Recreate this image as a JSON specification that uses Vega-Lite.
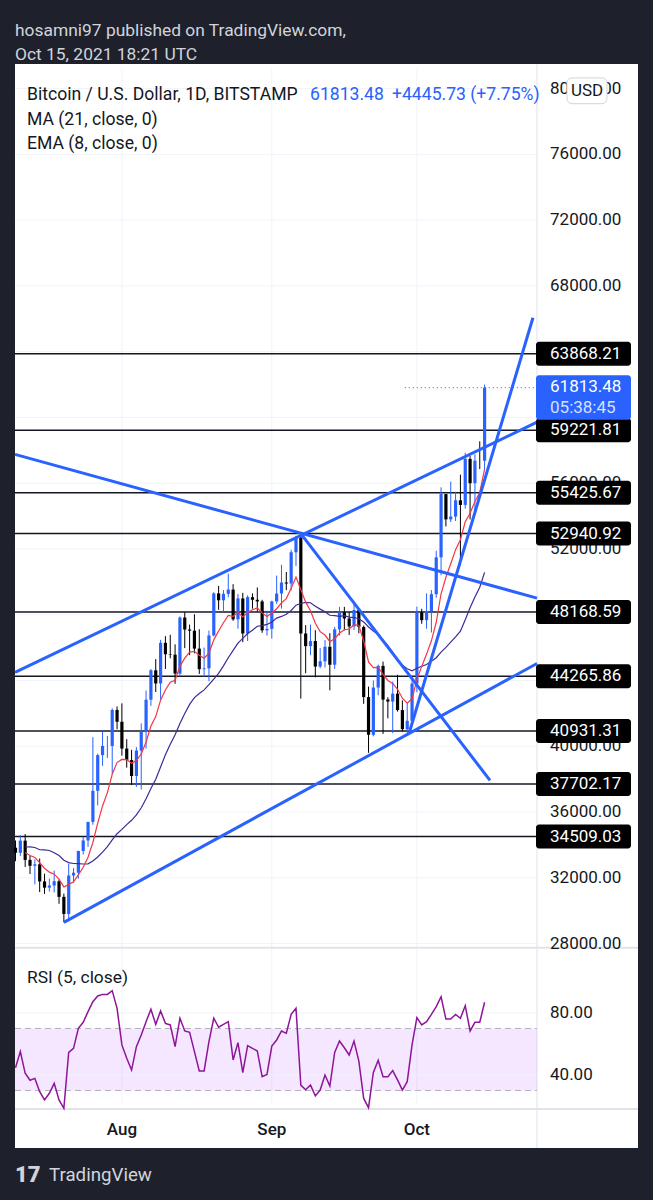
{
"$schema": "https://vega.github.io/schema/vega-lite/v6.json",
"width": 623,
"height": 1084,
"autosize": {"type": "none"},
"padding": {"left": 15, "top": 64, "right": 15, "bottom": 52},
"background": "#1e212b",
"config": {"view": {"fill": "#ffffff", "stroke": null}, "text": {"font": "Roboto"}},
"datasets": {
"candles": [
{"date":"2021-07-10","open":33830,"high":34270,"low":33010,"close":33520,"rsi":44.7},
{"date":"2021-07-11","open":33520,"high":34590,"low":33330,"close":34260,"rsi":55.1},
{"date":"2021-07-12","open":34260,"high":34660,"low":32660,"close":33090,"ma21":33872,"ema8":33540,"rsi":41.1},
{"date":"2021-07-13","open":33090,"high":33340,"low":32230,"close":32730,"ma21":33883,"ema8":33360,"rsi":36.6},
{"date":"2021-07-14","open":32730,"high":33120,"low":31600,"close":32820,"ma21":33841,"ema8":33240,"rsi":37.8},
{"date":"2021-07-15","open":32820,"high":33170,"low":31130,"close":31780,"ma21":33704,"ema8":32916,"rsi":29.2},
{"date":"2021-07-16","open":31780,"high":32250,"low":31020,"close":31400,"ma21":33695,"ema8":32579,"rsi":23.9},
{"date":"2021-07-17","open":31400,"high":31950,"low":31170,"close":31530,"ma21":33661,"ema8":32346,"rsi":28.2},
{"date":"2021-07-18","open":31530,"high":32440,"low":31110,"close":31790,"ma21":33525,"ema8":32222,"rsi":34.6},
{"date":"2021-07-19","open":31790,"high":31890,"low":30420,"close":30840,"ma21":33353,"ema8":31915,"rsi":23.9},
{"date":"2021-07-20","open":30840,"high":31040,"low":29290,"close":29800,"ma21":33064,"ema8":31445,"rsi":18.5},
{"date":"2021-07-21","open":29800,"high":32860,"low":29490,"close":32140,"ma21":32926,"ema8":31599,"rsi":54.6},
{"date":"2021-07-22","open":32140,"high":32590,"low":31710,"close":32310,"ma21":32868,"ema8":31757,"rsi":57.2},
{"date":"2021-07-23","open":32310,"high":33650,"low":31950,"close":33630,"ma21":32860,"ema8":32173,"rsi":70.1},
{"date":"2021-07-24","open":33630,"high":34490,"low":33420,"close":34270,"ma21":32840,"ema8":32639,"rsi":74.0},
{"date":"2021-07-25","open":34270,"high":35400,"low":33880,"close":35400,"ma21":32846,"ema8":33252,"rsi":80.9},
{"date":"2021-07-26","open":35400,"high":40550,"low":35230,"close":37290,"ma21":33017,"ema8":34149,"rsi":87.3},
{"date":"2021-07-27","open":37290,"high":39550,"low":36400,"close":39460,"ma21":33267,"ema8":35329,"rsi":91.0},
{"date":"2021-07-28","open":39460,"high":40900,"low":38810,"close":40020,"ma21":33560,"ema8":36371,"rsi":92.0},
{"date":"2021-07-29","open":40020,"high":40630,"low":39290,"close":40020,"ma21":33900,"ema8":37182,"rsi":92.0},
{"date":"2021-07-30","open":40020,"high":42310,"low":38320,"close":42210,"ma21":34300,"ema8":38299,"rsi":94.4},
{"date":"2021-07-31","open":42210,"high":42420,"low":41030,"close":41490,"ma21":34680,"ema8":39008,"rsi":83.0},
{"date":"2021-08-01","open":41490,"high":42610,"low":39430,"close":39860,"ma21":34947,"ema8":39197,"rsi":59.4},
{"date":"2021-08-02","open":39860,"high":40430,"low":38700,"close":39160,"ma21":35236,"ema8":39189,"rsi":50.8},
{"date":"2021-08-03","open":39160,"high":39780,"low":37640,"close":38190,"ma21":35496,"ema8":38967,"rsi":43.2},
{"date":"2021-08-04","open":38190,"high":39950,"low":37530,"close":39740,"ma21":35825,"ema8":39139,"rsi":58.3},
{"date":"2021-08-05","open":39740,"high":41390,"low":37370,"close":40880,"ma21":36259,"ema8":39526,"rsi":65.8},
{"date":"2021-08-06","open":40880,"high":43390,"low":39860,"close":42830,"ma21":36803,"ema8":40260,"rsi":74.4},
{"date":"2021-08-07","open":42830,"high":44700,"low":42460,"close":44620,"ma21":37426,"ema8":41229,"rsi":82.4},
{"date":"2021-08-08","open":44620,"high":45300,"low":43300,"close":43820,"ma21":37999,"ema8":41805,"rsi":72.7},
{"date":"2021-08-09","open":43820,"high":46470,"low":42850,"close":46290,"ma21":38735,"ema8":42802,"rsi":81.3},
{"date":"2021-08-10","open":46290,"high":46700,"low":44700,"close":45600,"ma21":39487,"ema8":43424,"rsi":73.3},
{"date":"2021-08-11","open":45600,"high":46780,"low":45350,"close":45570,"ma21":40127,"ema8":43901,"rsi":72.3},
{"date":"2021-08-12","open":45570,"high":46200,"low":43800,"close":44420,"ma21":40703,"ema8":44016,"rsi":58.3},
{"date":"2021-08-13","open":44420,"high":47900,"low":44240,"close":47830,"ma21":41380,"ema8":44863,"rsi":76.6},
{"date":"2021-08-14","open":47830,"high":48150,"low":45970,"close":47100,"ma21":41990,"ema8":45360,"rsi":68.4},
{"date":"2021-08-15","open":47100,"high":47400,"low":45540,"close":47030,"ma21":42544,"ema8":45731,"rsi":67.5},
{"date":"2021-08-16","open":47030,"high":48030,"low":45650,"close":45940,"ma21":42956,"ema8":45777,"rsi":55.1},
{"date":"2021-08-17","open":45940,"high":47120,"low":44400,"close":44690,"ma21":43205,"ema8":45535,"rsi":42.6},
{"date":"2021-08-18","open":44690,"high":46000,"low":44230,"close":44740,"ma21":43430,"ema8":45358,"rsi":42.6},
{"date":"2021-08-19","open":44740,"high":47040,"low":43960,"close":46740,"ma21":43750,"ema8":45665,"rsi":61.5},
{"date":"2021-08-20","open":46740,"high":49370,"low":46680,"close":49300,"ma21":44088,"ema8":46473,"rsi":76.6},
{"date":"2021-08-21","open":49300,"high":49750,"low":48300,"close":48880,"ma21":44440,"ema8":47008,"rsi":70.8},
{"date":"2021-08-22","open":48880,"high":49500,"low":48200,"close":49270,"ma21":44888,"ema8":47511,"rsi":72.7},
{"date":"2021-08-23","open":49270,"high":50500,"low":49060,"close":49530,"ma21":45381,"ema8":47960,"rsi":74.4},
{"date":"2021-08-24","open":49530,"high":49860,"low":47630,"close":47720,"ma21":45835,"ema8":47907,"rsi":49.7},
{"date":"2021-08-25","open":47720,"high":49260,"low":47150,"close":48990,"ma21":46276,"ema8":48148,"rsi":60.9},
{"date":"2021-08-26","open":48990,"high":49330,"low":46330,"close":46860,"ma21":46561,"ema8":47862,"rsi":41.5},
{"date":"2021-08-27","open":46860,"high":49180,"low":46400,"close":49070,"ma21":46858,"ema8":48130,"rsi":58.9},
{"date":"2021-08-28","open":49070,"high":49300,"low":48370,"close":48910,"ma21":47062,"ema8":48303,"rsi":57.2},
{"date":"2021-08-29","open":48910,"high":49660,"low":48200,"close":48810,"ma21":47300,"ema8":48416,"rsi":55.5},
{"date":"2021-08-30","open":48810,"high":48910,"low":46900,"close":47050,"ma21":47336,"ema8":48112,"rsi":38.9},
{"date":"2021-08-31","open":47050,"high":48250,"low":46730,"close":47140,"ma21":47409,"ema8":47896,"rsi":40.4},
{"date":"2021-09-01","open":47140,"high":48850,"low":46550,"close":48810,"ma21":47563,"ema8":48099,"rsi":58.7},
{"date":"2021-09-02","open":48810,"high":50380,"low":48660,"close":49290,"ma21":47795,"ema8":48364,"rsi":62.6},
{"date":"2021-09-03","open":49290,"high":51040,"low":48370,"close":49960,"ma21":47897,"ema8":48719,"rsi":68.4},
{"date":"2021-09-04","open":49960,"high":50600,"low":49500,"close":49900,"ma21":48030,"ema8":48981,"rsi":66.9},
{"date":"2021-09-05","open":49900,"high":51950,"low":49480,"close":51800,"ma21":48257,"ema8":49607,"rsi":79.1},
{"date":"2021-09-06","open":51800,"high":52800,"low":50960,"close":52690,"ma21":48579,"ema8":50292,"rsi":83.0},
{"date":"2021-09-07","open":52690,"high":52930,"low":42900,"close":46860,"ma21":48682,"ema8":49529,"rsi":33.5},
{"date":"2021-09-08","open":46860,"high":47370,"low":44440,"close":46090,"ma21":48746,"ema8":48765,"rsi":30.5},
{"date":"2021-09-09","open":46090,"high":47400,"low":45540,"close":46400,"ma21":48730,"ema8":48239,"rsi":33.5},
{"date":"2021-09-10","open":46400,"high":47060,"low":44190,"close":44850,"ma21":48518,"ema8":47486,"rsi":26.5},
{"date":"2021-09-11","open":44850,"high":45970,"low":44740,"close":45170,"ma21":48342,"ema8":46971,"rsi":30.3},
{"date":"2021-09-12","open":45170,"high":46460,"low":44790,"close":46050,"ma21":48188,"ema8":46766,"rsi":40.0},
{"date":"2021-09-13","open":46050,"high":46880,"low":43400,"close":44960,"ma21":47970,"ema8":46365,"rsi":32.9},
{"date":"2021-09-14","open":44960,"high":47260,"low":44700,"close":47110,"ma21":47941,"ema8":46531,"rsi":54.6},
{"date":"2021-09-15","open":47110,"high":48480,"low":46740,"close":48140,"ma21":47901,"ema8":46889,"rsi":61.9},
{"date":"2021-09-16","open":48140,"high":48480,"low":47050,"close":47770,"ma21":47944,"ema8":47085,"rsi":57.6},
{"date":"2021-09-17","open":47770,"high":48150,"low":46770,"close":47290,"ma21":47860,"ema8":47131,"rsi":52.9},
{"date":"2021-09-18","open":47290,"high":48800,"low":47070,"close":48290,"ma21":47830,"ema8":47389,"rsi":61.9},
{"date":"2021-09-19","open":48290,"high":48360,"low":46870,"close":47260,"ma21":47756,"ema8":47360,"rsi":49.0},
{"date":"2021-09-20","open":47260,"high":47340,"low":42580,"close":42990,"ma21":47563,"ema8":46389,"rsi":24.9},
{"date":"2021-09-21","open":42990,"high":43630,"low":39600,"close":40700,"ma21":47256,"ema8":45125,"rsi":18.9},
{"date":"2021-09-22","open":40700,"high":44000,"low":40600,"close":43570,"ma21":47007,"ema8":44779,"rsi":41.7},
{"date":"2021-09-23","open":43570,"high":44970,"low":43100,"close":44890,"ma21":46797,"ema8":44804,"rsi":49.5},
{"date":"2021-09-24","open":44890,"high":45150,"low":40750,"close":42840,"ma21":46458,"ema8":44368,"rsi":38.9},
{"date":"2021-09-25","open":42840,"high":42980,"low":41700,"close":42720,"ma21":46116,"ema8":44002,"rsi":38.9},
{"date":"2021-09-26","open":42720,"high":43930,"low":40800,"close":43200,"ma21":45707,"ema8":43824,"rsi":42.8},
{"date":"2021-09-27","open":43200,"high":44350,"low":42110,"close":42200,"ma21":45207,"ema8":43463,"rsi":36.8},
{"date":"2021-09-28","open":42200,"high":42790,"low":40900,"close":41040,"ma21":44930,"ema8":42925,"rsi":30.3},
{"date":"2021-09-29","open":41040,"high":42620,"low":40800,"close":41550,"ma21":44714,"ema8":42619,"rsi":35.7},
{"date":"2021-09-30","open":41550,"high":44100,"low":41440,"close":43820,"ma21":44591,"ema8":42886,"rsi":59.4},
{"date":"2021-10-01","open":43820,"high":48490,"low":43290,"close":48140,"ma21":44748,"ema8":44053,"rsi":77.0},
{"date":"2021-10-02","open":48140,"high":48360,"low":47450,"close":47670,"ma21":44867,"ema8":44857,"rsi":72.3},
{"date":"2021-10-03","open":47670,"high":49300,"low":47150,"close":48230,"ma21":44970,"ema8":45607,"rsi":74.4},
{"date":"2021-10-04","open":48230,"high":49500,"low":46920,"close":49250,"ma21":45175,"ema8":46416,"rsi":79.1},
{"date":"2021-10-05","open":49250,"high":51890,"low":49030,"close":51490,"ma21":45383,"ema8":47543,"rsi":84.1},
{"date":"2021-10-06","open":51490,"high":55750,"low":50400,"close":55340,"ma21":45726,"ema8":49276,"rsi":90.5},
{"date":"2021-10-07","open":55340,"high":55340,"low":53370,"close":53800,"ma21":46013,"ema8":50281,"rsi":76.1},
{"date":"2021-10-08","open":53800,"high":56100,"low":53640,"close":53970,"ma21":46331,"ema8":51101,"rsi":76.1},
{"date":"2021-10-09","open":53970,"high":55480,"low":53700,"close":54960,"ma21":46649,"ema8":51958,"rsi":79.1},
{"date":"2021-10-10","open":54960,"high":56520,"low":51000,"close":54680,"ma21":47002,"ema8":52563,"rsi":76.6},
{"date":"2021-10-11","open":54680,"high":57850,"low":54450,"close":57480,"ma21":47692,"ema8":53656,"rsi":84.7},
{"date":"2021-10-12","open":57480,"high":57650,"low":53800,"close":56000,"ma21":48421,"ema8":54177,"rsi":68.4},
{"date":"2021-10-13","open":56000,"high":57760,"low":54260,"close":57370,"ma21":49078,"ema8":54887,"rsi":74.0},
{"date":"2021-10-14","open":57370,"high":58550,"low":56860,"close":57368,"ma21":49672,"ema8":55438,"rsi":74.0},
{"date":"2021-10-15","open":57368,"high":62000,"low":56800,"close":61813,"ma21":50576,"ema8":56855,"rsi":86.9}
],
"levels": [{"price":63868.21},{"price":59221.81},{"price":55425.67},{"price":52940.92},{"price":48168.59},{"price":44265.86},{"price":40931.31},{"price":37702.17},{"price":34509.03}],
"ticks": [{"price":28000},{"price":32000},{"price":36000},{"price":40000},{"price":44000},{"price":48000},{"price":52000},{"price":56000},{"price":60000},{"price":64000},{"price":68000},{"price":72000},{"price":76000},{"price":80000}],
"trend": [
{"line":"L1","date":"2021-07-09T21:30:00Z","price":44493},{"line":"L1","date":"2021-10-25T20:10:00Z","price":59710},
{"line":"L2","date":"2021-07-20T00:00:00Z","price":29290},{"line":"L2","date":"2021-10-25T20:10:00Z","price":45036},
{"line":"L3","date":"2021-07-09T21:30:00Z","price":57751},{"line":"L3","date":"2021-10-25T20:10:00Z","price":49013},
{"line":"L4","date":"2021-09-07T00:00:00Z","price":52930},{"line":"L4","date":"2021-10-16T02:50:00Z","price":37925},
{"line":"L5","date":"2021-09-29T12:00:00Z","price":40900},{"line":"L5","date":"2021-10-25T00:00:00Z","price":66067}
],
"months": [{"date":"2021-08-01","label":"Aug"},{"date":"2021-09-01","label":"Sep"},{"date":"2021-10-01","label":"Oct"}],
"rsigrid": [{"value":80},{"value":40}],
"rsiband": [{"value":70},{"value":30}]
},
"layer": [
{"layer": [
{"data":{"name":"ticks"},"mark":{"type":"rule","color":"#f0f3fa","strokeWidth":1},
 "encoding":{"x":{"datum":{"year":2021,"month":7,"date":9,"hours":21,"minutes":30,"utc":true},"type":"temporal","scale":{"type":"utc","domain":[{"year":2021,"month":7,"date":9,"hours":21,"minutes":30,"utc":true},{"year":2021,"month":11,"date":15,"hours":17,"minutes":20,"utc":true}],"nice":false},"axis":null},
 "x2":{"datum":{"year":2021,"month":10,"date":25,"hours":20,"minutes":10,"utc":true}},
 "y":{"field":"price","type":"quantitative","scale":{"domain":[15869,81194],"nice":false,"zero":false},"axis":null}}},
{"data":{"name":"months"},"mark":{"type":"rule","color":"#f0f3fa","strokeWidth":1},
 "encoding":{"x":{"field":"date","type":"temporal","scale":{"type":"utc","domain":[{"year":2021,"month":7,"date":9,"hours":21,"minutes":30,"utc":true},{"year":2021,"month":11,"date":15,"hours":17,"minutes":20,"utc":true}],"nice":false},"axis":null},
 "y":{"datum":18219,"type":"quantitative","scale":{"domain":[15869,81194],"nice":false,"zero":false},"axis":null},
 "y2":{"datum":81194}}},
{"data":{"values":[{}]},"mark":{"type":"rule","color":"#e0e3eb","strokeWidth":1},
 "encoding":{"x":{"datum":{"year":2021,"month":10,"date":25,"hours":20,"minutes":10,"utc":true},"type":"temporal","scale":{"type":"utc","domain":[{"year":2021,"month":7,"date":9,"hours":21,"minutes":30,"utc":true},{"year":2021,"month":11,"date":15,"hours":17,"minutes":20,"utc":true}],"nice":false},"axis":null}}},
{"data":{"values":[{}]},"mark":{"type":"rule","color":"#e0e3eb","strokeWidth":2},
 "encoding":{"y":{"datum":27740,"type":"quantitative","scale":{"domain":[15869,81194],"nice":false,"zero":false},"axis":null}}},
{"data":{"name":"levels"},"mark":{"type":"rule","color":"#131722","strokeWidth":1.5},
 "encoding":{"x":{"datum":{"year":2021,"month":7,"date":9,"hours":21,"minutes":30,"utc":true},"type":"temporal","scale":{"type":"utc","domain":[{"year":2021,"month":7,"date":9,"hours":21,"minutes":30,"utc":true},{"year":2021,"month":11,"date":15,"hours":17,"minutes":20,"utc":true}],"nice":false},"axis":null},
 "x2":{"datum":{"year":2021,"month":10,"date":25,"hours":20,"minutes":10,"utc":true}},
 "y":{"field":"price","type":"quantitative","scale":{"domain":[15869,81194],"nice":false,"zero":false},"axis":null}}},
{"data":{"values":[{}]},"mark":{"type":"rule","color":"#2962ff","strokeWidth":1,"strokeDash":[1,3]},
 "encoding":{"x":{"datum":{"year":2021,"month":9,"date":28,"hours":12,"utc":true},"type":"temporal","scale":{"type":"utc","domain":[{"year":2021,"month":7,"date":9,"hours":21,"minutes":30,"utc":true},{"year":2021,"month":11,"date":15,"hours":17,"minutes":20,"utc":true}],"nice":false},"axis":null},
 "x2":{"datum":{"year":2021,"month":10,"date":25,"hours":20,"minutes":10,"utc":true}},
 "y":{"datum":61813.48,"type":"quantitative","scale":{"domain":[15869,81194],"nice":false,"zero":false},"axis":null}}},
{"data":{"name":"candles"},"mark":{"type":"rule","strokeWidth":1},
 "encoding":{"x":{"field":"date","type":"temporal","scale":{"type":"utc","domain":[{"year":2021,"month":7,"date":9,"hours":21,"minutes":30,"utc":true},{"year":2021,"month":11,"date":15,"hours":17,"minutes":20,"utc":true}],"nice":false},"axis":null},
 "y":{"field":"low","type":"quantitative","scale":{"domain":[15869,81194],"nice":false,"zero":false},"axis":null},
 "y2":{"field":"high"},
 "color":{"condition":{"test":"datum.close >= datum.open","value":"#2962ff"},"value":"#000000"}}},
{"data":{"name":"candles"},"mark":{"type":"rule","strokeWidth":3.2,"strokeCap":"butt"},
 "encoding":{"x":{"field":"date","type":"temporal","scale":{"type":"utc","domain":[{"year":2021,"month":7,"date":9,"hours":21,"minutes":30,"utc":true},{"year":2021,"month":11,"date":15,"hours":17,"minutes":20,"utc":true}],"nice":false},"axis":null},
 "y":{"field":"open","type":"quantitative","scale":{"domain":[15869,81194],"nice":false,"zero":false},"axis":null},
 "y2":{"field":"close"},
 "color":{"condition":{"test":"datum.close >= datum.open","value":"#2962ff"},"value":"#000000"}}},
{"data":{"name":"candles"},"mark":{"type":"line","color":"#3d2a96","strokeWidth":1.2},
 "encoding":{"x":{"field":"date","type":"temporal","scale":{"type":"utc","domain":[{"year":2021,"month":7,"date":9,"hours":21,"minutes":30,"utc":true},{"year":2021,"month":11,"date":15,"hours":17,"minutes":20,"utc":true}],"nice":false},"axis":null},
 "y":{"field":"ma21","type":"quantitative","scale":{"domain":[15869,81194],"nice":false,"zero":false},"axis":null}}},
{"data":{"name":"candles"},"mark":{"type":"line","color":"#f23645","strokeWidth":1.2},
 "encoding":{"x":{"field":"date","type":"temporal","scale":{"type":"utc","domain":[{"year":2021,"month":7,"date":9,"hours":21,"minutes":30,"utc":true},{"year":2021,"month":11,"date":15,"hours":17,"minutes":20,"utc":true}],"nice":false},"axis":null},
 "y":{"field":"ema8","type":"quantitative","scale":{"domain":[15869,81194],"nice":false,"zero":false},"axis":null}}},
{"data":{"name":"trend"},"mark":{"type":"line","color":"#2962ff","strokeWidth":3},
 "encoding":{"x":{"field":"date","type":"temporal","scale":{"type":"utc","domain":[{"year":2021,"month":7,"date":9,"hours":21,"minutes":30,"utc":true},{"year":2021,"month":11,"date":15,"hours":17,"minutes":20,"utc":true}],"nice":false},"axis":null},
 "y":{"field":"price","type":"quantitative","scale":{"domain":[15869,81194],"nice":false,"zero":false},"axis":null},
 "detail":{"field":"line"}}},
{"data":{"name":"ticks"},"mark":{"type":"text","align":"left","baseline":"middle","fontSize":17,"color":"#131722"},
 "encoding":{"x":{"datum":{"year":2021,"month":10,"date":28,"hours":12,"minutes":45,"utc":true},"type":"temporal","scale":{"type":"utc","domain":[{"year":2021,"month":7,"date":9,"hours":21,"minutes":30,"utc":true},{"year":2021,"month":11,"date":15,"hours":17,"minutes":20,"utc":true}],"nice":false},"axis":null},
 "y":{"field":"price","type":"quantitative","scale":{"domain":[15869,81194],"nice":false,"zero":false},"axis":null},
 "text":{"field":"price","type":"quantitative","format":".2f"}}},
{"data":{"name":"levels"},"mark":{"type":"bar","color":"#000000","size":24,"cornerRadius":3,"orient":"horizontal"},
 "encoding":{"x":{"datum":{"year":2021,"month":10,"date":25,"hours":15,"minutes":10,"utc":true},"type":"temporal","scale":{"type":"utc","domain":[{"year":2021,"month":7,"date":9,"hours":21,"minutes":30,"utc":true},{"year":2021,"month":11,"date":15,"hours":17,"minutes":20,"utc":true}],"nice":false},"axis":null},
 "x2":{"datum":{"year":2021,"month":11,"date":14,"hours":6,"minutes":30,"utc":true}},
 "y":{"field":"price","type":"quantitative","scale":{"domain":[15869,81194],"nice":false,"zero":false},"axis":null}}},
{"data":{"name":"levels"},"mark":{"type":"text","align":"left","baseline":"middle","fontSize":17,"color":"#ffffff"},
 "encoding":{"x":{"datum":{"year":2021,"month":10,"date":28,"hours":12,"minutes":45,"utc":true},"type":"temporal","scale":{"type":"utc","domain":[{"year":2021,"month":7,"date":9,"hours":21,"minutes":30,"utc":true},{"year":2021,"month":11,"date":15,"hours":17,"minutes":20,"utc":true}],"nice":false},"axis":null},
 "y":{"field":"price","type":"quantitative","scale":{"domain":[15869,81194],"nice":false,"zero":false},"axis":null},
 "text":{"field":"price","type":"quantitative","format":".2f"}}},
{"data":{"values":[{}]},"mark":{"type":"rect","color":"#2962ff","cornerRadius":3},
 "encoding":{"x":{"datum":{"year":2021,"month":10,"date":25,"hours":15,"minutes":10,"utc":true},"type":"temporal","scale":{"type":"utc","domain":[{"year":2021,"month":7,"date":9,"hours":21,"minutes":30,"utc":true},{"year":2021,"month":11,"date":15,"hours":17,"minutes":20,"utc":true}],"nice":false},"axis":null},
 "x2":{"datum":{"year":2021,"month":11,"date":14,"hours":6,"minutes":30,"utc":true}},
 "y":{"datum":62572,"type":"quantitative","scale":{"domain":[15869,81194],"nice":false,"zero":false},"axis":null},
 "y2":{"datum":59860}}},
{"data":{"values":[{}]},"mark":{"type":"text","align":"left","baseline":"middle","fontSize":17,"color":"#ffffff"},
 "encoding":{"x":{"datum":{"year":2021,"month":10,"date":28,"hours":12,"minutes":45,"utc":true},"type":"temporal","scale":{"type":"utc","domain":[{"year":2021,"month":7,"date":9,"hours":21,"minutes":30,"utc":true},{"year":2021,"month":11,"date":15,"hours":17,"minutes":20,"utc":true}],"nice":false},"axis":null},
 "y":{"datum":61849,"type":"quantitative","scale":{"domain":[15869,81194],"nice":false,"zero":false},"axis":null},
 "text":{"value":"61813.48"}}},
{"data":{"values":[{}]},"mark":{"type":"text","align":"left","baseline":"middle","fontSize":17,"color":"#d6e0ff"},
 "encoding":{"x":{"datum":{"year":2021,"month":10,"date":28,"hours":12,"minutes":45,"utc":true},"type":"temporal","scale":{"type":"utc","domain":[{"year":2021,"month":7,"date":9,"hours":21,"minutes":30,"utc":true},{"year":2021,"month":11,"date":15,"hours":17,"minutes":20,"utc":true}],"nice":false},"axis":null},
 "y":{"datum":60584,"type":"quantitative","scale":{"domain":[15869,81194],"nice":false,"zero":false},"axis":null},
 "text":{"value":"05:38:45"}}},
{"data":{"values":[{}]},"mark":{"type":"rect","fill":"#ffffff","stroke":"#d1d4dc","strokeWidth":1,"cornerRadius":5},
 "encoding":{"x":{"datum":{"year":2021,"month":11,"date":1,"hours":1,"utc":true},"type":"temporal","scale":{"type":"utc","domain":[{"year":2021,"month":7,"date":9,"hours":21,"minutes":30,"utc":true},{"year":2021,"month":11,"date":15,"hours":17,"minutes":20,"utc":true}],"nice":false},"axis":null},
 "x2":{"datum":{"year":2021,"month":11,"date":9,"hours":7,"minutes":30,"utc":true}},
 "y":{"datum":80652,"type":"quantitative","scale":{"domain":[15869,81194],"nice":false,"zero":false},"axis":null},
 "y2":{"datum":79084}}},
{"data":{"values":[{}]},"mark":{"type":"text","align":"center","baseline":"middle","fontSize":17,"color":"#131722"},
 "encoding":{"x":{"datum":{"year":2021,"month":11,"date":5,"hours":4,"minutes":20,"utc":true},"type":"temporal","scale":{"type":"utc","domain":[{"year":2021,"month":7,"date":9,"hours":21,"minutes":30,"utc":true},{"year":2021,"month":11,"date":15,"hours":17,"minutes":20,"utc":true}],"nice":false},"axis":null},
 "y":{"datum":79869,"type":"quantitative","scale":{"domain":[15869,81194],"nice":false,"zero":false},"axis":null},
 "text":{"value":"USD"}}},
{"data":{"values":[{}]},"mark":{"type":"text","align":"left","baseline":"middle","fontSize":17.6,"color":"#131722"},
 "encoding":{"x":{"datum":{"year":2021,"month":7,"date":12,"hours":9,"utc":true},"type":"temporal","scale":{"type":"utc","domain":[{"year":2021,"month":7,"date":9,"hours":21,"minutes":30,"utc":true},{"year":2021,"month":11,"date":15,"hours":17,"minutes":20,"utc":true}],"nice":false},"axis":null},
 "y":{"datum":79626,"type":"quantitative","scale":{"domain":[15869,81194],"nice":false,"zero":false},"axis":null},
 "text":{"value":"Bitcoin / U.S. Dollar, 1D, BITSTAMP"}}},
{"data":{"values":[{}]},"mark":{"type":"text","align":"left","baseline":"middle","fontSize":17.6,"color":"#2962ff"},
 "encoding":{"x":{"datum":{"year":2021,"month":9,"date":8,"hours":21,"minutes":36,"utc":true},"type":"temporal","scale":{"type":"utc","domain":[{"year":2021,"month":7,"date":9,"hours":21,"minutes":30,"utc":true},{"year":2021,"month":11,"date":15,"hours":17,"minutes":20,"utc":true}],"nice":false},"axis":null},
 "y":{"datum":79626,"type":"quantitative","scale":{"domain":[15869,81194],"nice":false,"zero":false},"axis":null},
 "text":{"value":"61813.48"}}},
{"data":{"values":[{}]},"mark":{"type":"text","align":"left","baseline":"middle","fontSize":17.6,"color":"#2962ff"},
 "encoding":{"x":{"datum":{"year":2021,"month":9,"date":25,"hours":20,"minutes":25,"utc":true},"type":"temporal","scale":{"type":"utc","domain":[{"year":2021,"month":7,"date":9,"hours":21,"minutes":30,"utc":true},{"year":2021,"month":11,"date":15,"hours":17,"minutes":20,"utc":true}],"nice":false},"axis":null},
 "y":{"datum":79626,"type":"quantitative","scale":{"domain":[15869,81194],"nice":false,"zero":false},"axis":null},
 "text":{"value":"+4445.73 (+7.75%)"}}},
{"data":{"values":[{}]},"mark":{"type":"text","align":"left","baseline":"middle","fontSize":17.6,"color":"#131722"},
 "encoding":{"x":{"datum":{"year":2021,"month":7,"date":12,"hours":9,"utc":true},"type":"temporal","scale":{"type":"utc","domain":[{"year":2021,"month":7,"date":9,"hours":21,"minutes":30,"utc":true},{"year":2021,"month":11,"date":15,"hours":17,"minutes":20,"utc":true}],"nice":false},"axis":null},
 "y":{"datum":78120,"type":"quantitative","scale":{"domain":[15869,81194],"nice":false,"zero":false},"axis":null},
 "text":{"value":"MA (21, close, 0)"}}},
{"data":{"values":[{}]},"mark":{"type":"text","align":"left","baseline":"middle","fontSize":17.6,"color":"#131722"},
 "encoding":{"x":{"datum":{"year":2021,"month":7,"date":12,"hours":9,"utc":true},"type":"temporal","scale":{"type":"utc","domain":[{"year":2021,"month":7,"date":9,"hours":21,"minutes":30,"utc":true},{"year":2021,"month":11,"date":15,"hours":17,"minutes":20,"utc":true}],"nice":false},"axis":null},
 "y":{"datum":76613,"type":"quantitative","scale":{"domain":[15869,81194],"nice":false,"zero":false},"axis":null},
 "text":{"value":"EMA (8, close, 0)"}}},
{"data":{"values":[{}]},"mark":{"type":"text","align":"left","baseline":"middle","fontSize":17.4,"color":"#d1d4dc"},
 "encoding":{"x":{"datum":{"year":2021,"month":7,"date":9,"hours":21,"minutes":30,"utc":true},"type":"temporal","scale":{"type":"utc","domain":[{"year":2021,"month":7,"date":9,"hours":21,"minutes":30,"utc":true},{"year":2021,"month":11,"date":15,"hours":17,"minutes":20,"utc":true}],"nice":false},"axis":null},
 "y":{"datum":83483,"type":"quantitative","scale":{"domain":[15869,81194],"nice":false,"zero":false},"axis":null},
 "text":{"value":"hosamni97 published on TradingView.com,"}}},
{"data":{"values":[{}]},"mark":{"type":"text","align":"left","baseline":"middle","fontSize":17.4,"color":"#d1d4dc"},
 "encoding":{"x":{"datum":{"year":2021,"month":7,"date":9,"hours":21,"minutes":30,"utc":true},"type":"temporal","scale":{"type":"utc","domain":[{"year":2021,"month":7,"date":9,"hours":21,"minutes":30,"utc":true},{"year":2021,"month":11,"date":15,"hours":17,"minutes":20,"utc":true}],"nice":false},"axis":null},
 "y":{"datum":82037,"type":"quantitative","scale":{"domain":[15869,81194],"nice":false,"zero":false},"axis":null},
 "text":{"value":"Oct 15, 2021 18:21 UTC"}}}
]},
{"layer": [
{"data":{"values":[{}]},"mark":{"type":"rect","color":"#9915ff","opacity":0.1},
 "encoding":{"x":{"datum":{"year":2021,"month":7,"date":9,"hours":21,"minutes":30,"utc":true},"type":"temporal","scale":{"type":"utc","domain":[{"year":2021,"month":7,"date":9,"hours":21,"minutes":30,"utc":true},{"year":2021,"month":11,"date":15,"hours":17,"minutes":20,"utc":true}],"nice":false},"axis":null},
 "x2":{"datum":{"year":2021,"month":10,"date":25,"hours":20,"minutes":10,"utc":true}},
 "y":{"datum":30,"type":"quantitative","scale":{"domain":[-7.1,692.26],"nice":false,"zero":false},"axis":null},
 "y2":{"datum":70}}},
{"data":{"name":"rsigrid"},"mark":{"type":"rule","color":"#f0f3fa","strokeWidth":1},
 "encoding":{"x":{"datum":{"year":2021,"month":7,"date":9,"hours":21,"minutes":30,"utc":true},"type":"temporal","scale":{"type":"utc","domain":[{"year":2021,"month":7,"date":9,"hours":21,"minutes":30,"utc":true},{"year":2021,"month":11,"date":15,"hours":17,"minutes":20,"utc":true}],"nice":false},"axis":null},
 "x2":{"datum":{"year":2021,"month":10,"date":25,"hours":20,"minutes":10,"utc":true}},
 "y":{"field":"value","type":"quantitative","scale":{"domain":[-7.1,692.26],"nice":false,"zero":false},"axis":null}}},
{"data":{"name":"rsiband"},"mark":{"type":"rule","color":"#b2b5be","strokeWidth":1,"strokeDash":[6,4]},
 "encoding":{"x":{"datum":{"year":2021,"month":7,"date":9,"hours":21,"minutes":30,"utc":true},"type":"temporal","scale":{"type":"utc","domain":[{"year":2021,"month":7,"date":9,"hours":21,"minutes":30,"utc":true},{"year":2021,"month":11,"date":15,"hours":17,"minutes":20,"utc":true}],"nice":false},"axis":null},
 "x2":{"datum":{"year":2021,"month":10,"date":25,"hours":20,"minutes":10,"utc":true}},
 "y":{"field":"value","type":"quantitative","scale":{"domain":[-7.1,692.26],"nice":false,"zero":false},"axis":null}}},
{"data":{"values":[{}]},"mark":{"type":"rule","color":"#e0e3eb","strokeWidth":2},
 "encoding":{"y":{"datum":18.06,"type":"quantitative","scale":{"domain":[-7.1,692.26],"nice":false,"zero":false},"axis":null}}},
{"data":{"name":"candles"},"mark":{"type":"line","color":"#8e1599","strokeWidth":1.5},
 "encoding":{"x":{"field":"date","type":"temporal","scale":{"type":"utc","domain":[{"year":2021,"month":7,"date":9,"hours":21,"minutes":30,"utc":true},{"year":2021,"month":11,"date":15,"hours":17,"minutes":20,"utc":true}],"nice":false},"axis":null},
 "y":{"field":"rsi","type":"quantitative","scale":{"domain":[-7.1,692.26],"nice":false,"zero":false},"axis":null}}},
{"data":{"values":[{}]},"mark":{"type":"text","align":"left","baseline":"middle","fontSize":17.4,"color":"#131722"},
 "encoding":{"x":{"datum":{"year":2021,"month":7,"date":12,"hours":9,"utc":true},"type":"temporal","scale":{"type":"utc","domain":[{"year":2021,"month":7,"date":9,"hours":21,"minutes":30,"utc":true},{"year":2021,"month":11,"date":15,"hours":17,"minutes":20,"utc":true}],"nice":false},"axis":null},
 "y":{"datum":102.58,"type":"quantitative","scale":{"domain":[-7.1,692.26],"nice":false,"zero":false},"axis":null},
 "text":{"value":"RSI (5, close)"}}},
{"data":{"name":"rsigrid"},"mark":{"type":"text","align":"left","baseline":"middle","fontSize":17,"color":"#131722"},
 "encoding":{"x":{"datum":{"year":2021,"month":10,"date":28,"hours":12,"minutes":45,"utc":true},"type":"temporal","scale":{"type":"utc","domain":[{"year":2021,"month":7,"date":9,"hours":21,"minutes":30,"utc":true},{"year":2021,"month":11,"date":15,"hours":17,"minutes":20,"utc":true}],"nice":false},"axis":null},
 "y":{"field":"value","type":"quantitative","scale":{"domain":[-7.1,692.26],"nice":false,"zero":false},"axis":null},
 "text":{"field":"value","type":"quantitative","format":".2f"}}},
{"data":{"name":"months"},"mark":{"type":"text","align":"center","baseline":"middle","fontSize":17,"fontWeight":500,"color":"#131722"},
 "encoding":{"x":{"field":"date","type":"temporal","scale":{"type":"utc","domain":[{"year":2021,"month":7,"date":9,"hours":21,"minutes":30,"utc":true},{"year":2021,"month":11,"date":15,"hours":17,"minutes":20,"utc":true}],"nice":false},"axis":null},
 "y":{"datum":4.52,"type":"quantitative","scale":{"domain":[-7.1,692.26],"nice":false,"zero":false},"axis":null},
 "text":{"field":"label"}}},
{"data":{"values":[{}]},"mark":{"type":"text","align":"left","baseline":"middle","fontSize":22,"fontWeight":900,"color":"#d1d4dc"},
 "encoding":{"x":{"datum":{"year":2021,"month":7,"date":9,"hours":21,"minutes":30,"utc":true},"type":"temporal","scale":{"type":"utc","domain":[{"year":2021,"month":7,"date":9,"hours":21,"minutes":30,"utc":true},{"year":2021,"month":11,"date":15,"hours":17,"minutes":20,"utc":true}],"nice":false},"axis":null},
 "y":{"datum":-24.5,"type":"quantitative","scale":{"domain":[-7.1,692.26],"nice":false,"zero":false},"axis":null},
 "text":{"value":"17"}}},
{"data":{"values":[{}]},"mark":{"type":"text","align":"left","baseline":"middle","fontSize":18.7,"color":"#d1d4dc"},
 "encoding":{"x":{"datum":{"year":2021,"month":7,"date":16,"hours":22,"minutes":20,"utc":true},"type":"temporal","scale":{"type":"utc","domain":[{"year":2021,"month":7,"date":9,"hours":21,"minutes":30,"utc":true},{"year":2021,"month":11,"date":15,"hours":17,"minutes":20,"utc":true}],"nice":false},"axis":null},
 "y":{"datum":-24.5,"type":"quantitative","scale":{"domain":[-7.1,692.26],"nice":false,"zero":false},"axis":null},
 "text":{"value":"TradingView"}}}
]}
],
"resolve": {"scale": {"y": "independent"}}
}
